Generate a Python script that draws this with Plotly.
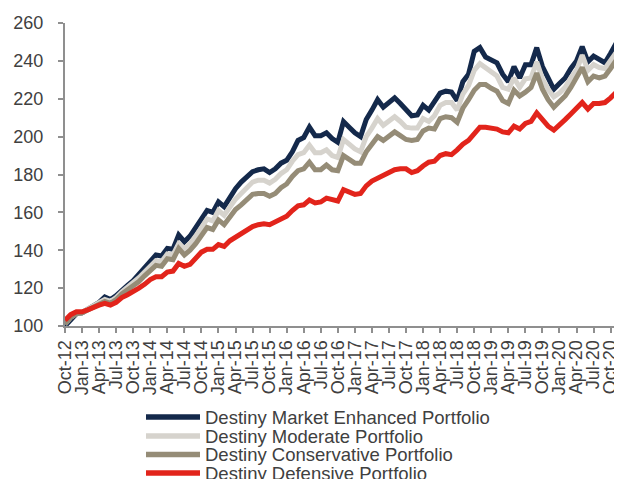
import pandas as pd
import plotly.graph_objects as go

# Monthly categories Oct-12 .. Dec-20
months = [d.strftime("%b-%y") for d in pd.date_range("2012-10-01", "2020-12-01", freq="MS")]
tick_labels = months[::3]

enhanced = [100, 103.5, 106.5, 107, 109, 110.5, 112.5, 115.3, 114, 116,
            119, 121.5, 124, 127.5, 130.5, 134, 137.5, 137, 141, 140.5,
            148, 144.5, 147.5, 152, 157, 161, 160, 165.5, 163, 168,
            172.5, 176, 178.5, 181.5, 182.5, 183, 181, 183, 186, 187.5,
            192, 198, 199.5, 205, 200.5, 200.5, 202, 199, 197, 208,
            205, 202, 200, 209, 214, 219.5, 215.5, 218, 220.5, 217.5,
            214, 211, 211.5, 216.5, 214, 219, 223, 224, 223.5, 219,
            229, 233, 245, 247, 242, 240.5, 239, 233, 229, 237,
            231, 238, 238, 247, 237, 231, 225, 228, 231, 236,
            240, 247.5, 239.5, 242.5, 240.5, 239, 244, 249.5, 248.5]

moderate = [101, 104.5, 106.5, 107, 109, 110.5, 112, 114, 113, 115,
            118, 120.5, 122.5, 125.5, 128.5, 132, 134.5, 134, 138, 137.5,
            143.5, 141, 143.5, 147.5, 152, 156.5, 155.5, 161, 158.5, 163,
            167, 170, 173, 176, 177, 177, 175.5, 177.5, 180.5, 182.5,
            187, 190.5, 191.5, 195.5, 191.5, 191.5, 193, 190, 189, 198.5,
            196, 193.5, 192, 200, 204.5, 209.5, 206, 208.5, 210.5, 208,
            205, 204.5, 204.5, 209.5, 208, 211, 216.5, 218, 218, 214,
            222.5, 227, 235, 238.5, 236.5, 234, 232, 226, 225, 231,
            226, 230.5, 231, 239.5, 230.5, 225, 221, 223, 226, 231,
            235, 243, 235, 238, 236.5, 236, 240, 244.5, 244]

conservative = [101, 104.5, 106.5, 107, 108.5, 110, 111.5, 113, 112, 114,
                117, 119, 121, 123.5, 126.5, 129.5, 132, 131.5, 135.5, 135,
                141, 137.5, 140, 143.5, 148, 152, 151, 156, 153.5, 158,
                161.5, 164, 167, 169.5, 170, 170, 168.5, 170, 173, 175,
                179, 182, 183, 186.5, 182.5, 182.5, 185, 182.5, 182, 190,
                188, 186, 186, 192, 196, 200, 198, 200.5, 202.5, 200.5,
                198.5, 198, 198.5, 203, 204.5, 204, 209.5, 210.5, 210, 207.5,
                215, 219.5, 224.5, 227.5, 227.5, 225.5, 224, 219, 217.5, 224.5,
                221.5, 223.5, 226, 233.5, 225, 219.5, 215.5, 218.5, 221.5, 226,
                231, 236.5, 229, 232, 231, 232, 236, 240.5, 240]

defensive = [103, 106, 107.5, 107.5, 108.5, 110, 111, 112, 111, 112.5,
             115, 116.5, 118, 120, 122, 124.5, 126, 126, 128.5, 129,
             133, 131.5, 132.5, 135.5, 139, 140.5, 140.5, 143, 142, 145,
             147, 149, 151, 152.5, 153.5, 154, 153.5, 155, 157, 158,
             161, 163.5, 164, 166.5, 165, 165.5, 167.5, 166.5, 166, 172,
             170.5, 169.5, 170, 174, 176.5, 178, 180, 181, 182.5, 183,
             183, 181, 182, 184.5, 186.5, 187, 190, 191, 190.5, 193,
             196, 198, 202, 205, 205, 204.5, 204, 202.5, 202, 205.5,
             204, 207, 208, 212.5, 209, 205.5, 203.5, 206, 209, 212,
             215, 218, 214.5, 217.5, 217.5, 218, 220.5, 223.5, 223.5]

series_names = ["Destiny Market Enhanced Portfolio", "Destiny Moderate Portfolio",
                "Destiny Conservative Portfolio", "Destiny Defensive Portfolio"]
series_values = [enhanced, moderate, conservative, defensive]
colors = ["#14294b", "#d6d3cd", "#958c77", "#e2241b"]
y_ticks = [100, 120, 140, 160, 180, 200, 220, 240, 260]

FONT = "Liberation Sans, Arial, sans-serif"
TXT = "#404040"
AX = "#8f8f8f"

fig = go.Figure()
for name, vals, col in zip(series_names, series_values, colors):
    fig.add_trace(go.Scatter(x=months, y=vals, name=name, mode="lines",
                             line=dict(color=col, width=5), showlegend=False))

# The page adds an 8px body margin, so figure coordinates = picture coordinates - 8.
OFF = 8
W, H = 622 - OFF, 479 - OFF
L, R, T, B = 65 - OFF, 622 - OFF, 23 - OFF, 326 - OFF

def px_x(p):
    return (p - OFF - L) / (R - L)

def px_y(p):
    return (B - (p - OFF)) / (B - T)

rows = [417, 436, 454.5, 473]
for name, col, ry in zip(series_names, colors, rows):
    fig.add_shape(type="line", xref="paper", yref="paper",
                  x0=px_x(146), x1=px_x(200), y0=px_y(ry), y1=px_y(ry),
                  line=dict(color=col, width=5.5))
    fig.add_annotation(xref="paper", yref="paper", x=px_x(203), y=px_y(ry),
                       xanchor="left", yanchor="middle", text=name, showarrow=False,
                       font=dict(family=FONT, size=18.5, color=TXT))

fig.update_layout(
    width=W, height=H,
    margin=dict(l=L, r=W - R, t=T, b=H - B, pad=0, autoexpand=False),
    plot_bgcolor="white", paper_bgcolor="white",
    font=dict(family=FONT, size=18, color=TXT),
    showlegend=False,
    xaxis=dict(type="category", range=[0, len(months) - 1],
               tickmode="array", tickvals=tick_labels, ticktext=tick_labels,
               tickangle=-90, ticks="outside", ticklen=5, tickwidth=1.5, tickcolor=AX,
               showline=True, linecolor=AX, linewidth=2, showgrid=False, zeroline=False,
               automargin=False,
               tickfont=dict(family=FONT, size=18, color=TXT)),
    yaxis=dict(range=[100, 260], tickvals=y_ticks, ticks="outside", ticklen=5,
               tickwidth=1.5, tickcolor=AX, showline=True, linecolor=AX, linewidth=2,
               showgrid=False, zeroline=False, ticklabelstandoff=11, automargin=False,
               tickfont=dict(family=FONT, size=18, color=TXT)),
)

fig.write_html("out.html")
